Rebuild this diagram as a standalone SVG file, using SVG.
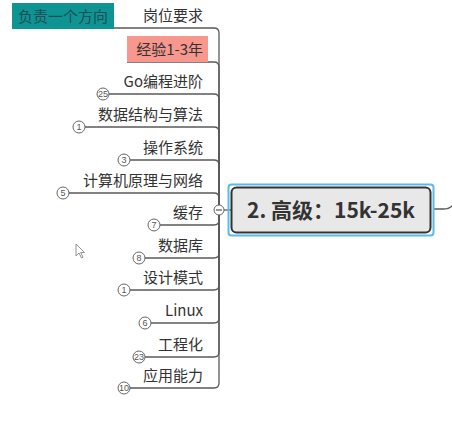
<svg xmlns="http://www.w3.org/2000/svg" width="452" height="422" viewBox="0 0 452 422">
<style>
.ln{fill:none;stroke:#5a5a5a;stroke-width:1.3}
.t{font-family:"Noto Sans CJK SC","Liberation Sans",sans-serif;font-size:15px;fill:#333;text-anchor:end}
.bd circle{fill:#fff;stroke:#666;stroke-width:1}
.bd text{font-family:"Liberation Sans","Noto Sans",sans-serif;font-size:9px;fill:#555;text-anchor:middle}
</style>
<rect width="452" height="422" fill="#fff"/>
<g id="connectors">
<path class="ln" d="M219,210 V33 Q219,28 214,28 H114"/>
<path class="ln" d="M219,210 V67 Q219,62 214,62 H127"/>
<path class="ln" d="M219,210 V99 Q219,94 214,94 H109"/>
<path class="ln" d="M219,210 V132 Q219,127 214,127 H85"/>
<path class="ln" d="M219,210 V165 Q219,160 214,160 H130"/>
<path class="ln" d="M219,210 V198 Q219,193 214,193 H69"/>
<path class="ln" d="M219,210 V220 Q219,225 214,225 H160"/>
<path class="ln" d="M219,210 V253 Q219,258 214,258 H145"/>
<path class="ln" d="M219,210 V285 Q219,290 214,290 H130"/>
<path class="ln" d="M219,210 V318 Q219,323 214,323 H151"/>
<path class="ln" d="M219,210 V352 Q219,357 214,357 H145"/>
<path class="ln" d="M219,210 V383 Q219,388 214,388 H130"/>
<path class="ln" d="M224,210 H231"/>
<path class="ln" d="M433,209 H444 Q449,209 452,206"/>
</g>
<g id="collapse">
<circle cx="219" cy="210" r="5" fill="#fff" stroke="#666" stroke-width="1"/>
<line x1="216" y1="210" x2="222" y2="210" stroke="#555" stroke-width="1.2"/>
</g>
<g id="n-fuze">
<rect x="12" y="3" width="102" height="26" fill="#0f9494"/>
<text x="63" y="22" style="font-family:'Noto Sans CJK SC',sans-serif;font-size:15px;fill:#1d4f55;text-anchor:middle">负责一个方向</text>
</g>
<g id="n-gangwei"><text class="t" x="203" y="21">岗位要求</text></g>
<g id="n-jingyan">
<rect x="127" y="36" width="81" height="26" fill="#f7978d"/>
<text class="t" x="203" y="55">经验1-3年</text>
</g>
<g id="n-go"><text class="t" x="203" y="87">Go编程进阶</text>
<g class="bd"><circle cx="103" cy="94" r="6"/><text x="103" y="97.2">25</text></g></g>
<g id="n-ds"><text class="t" x="203" y="120">数据结构与算法</text>
<g class="bd"><circle cx="79" cy="127" r="6"/><text x="79" y="130.2">1</text></g></g>
<g id="n-os"><text class="t" x="203" y="153">操作系统</text>
<g class="bd"><circle cx="124" cy="160" r="6"/><text x="124" y="163.2">3</text></g></g>
<g id="n-net"><text class="t" x="203" y="186">计算机原理与网络</text>
<g class="bd"><circle cx="63" cy="193" r="6"/><text x="63" y="196.2">5</text></g></g>
<g id="n-cache"><text class="t" x="203" y="218">缓存</text>
<g class="bd"><circle cx="154" cy="225" r="6"/><text x="154" y="228.2">7</text></g></g>
<g id="n-db"><text class="t" x="203" y="251">数据库</text>
<g class="bd"><circle cx="139" cy="258" r="6"/><text x="139" y="261.2">8</text></g></g>
<g id="n-dp"><text class="t" x="203" y="283">设计模式</text>
<g class="bd"><circle cx="124" cy="290" r="6"/><text x="124" y="293.2">1</text></g></g>
<g id="n-linux"><text class="t" x="203" y="316">Linux</text>
<g class="bd"><circle cx="145" cy="323" r="6"/><text x="145" y="326.2">6</text></g></g>
<g id="n-eng"><text class="t" x="203" y="350">工程化</text>
<g class="bd"><circle cx="139" cy="357" r="6"/><text x="139" y="360.2">23</text></g></g>
<g id="n-app"><text class="t" x="203" y="381">应用能力</text>
<g class="bd"><circle cx="124" cy="388" r="6"/><text x="124" y="391.2">10</text></g></g>
<g id="n-center">
<rect x="228.5" y="184.5" width="205" height="51" rx="3" fill="none" stroke="#5bbbe6" stroke-width="2"/>
<rect x="231.5" y="187.5" width="199" height="45" rx="5" fill="#e8e8e8" stroke="#333" stroke-width="2"/>
<text x="331" y="217.5" style="font-family:'Noto Sans CJK SC',sans-serif;font-size:21px;font-weight:bold;fill:#333;text-anchor:middle">2. 高级：15k-25k</text>
</g>
<path d="M76,244 V256 L79,253 L81.5,258 L83,257.3 L80.7,252.5 L84.5,252.5 Z" fill="#fff" stroke="#777" stroke-width="0.8"/>
</svg>
